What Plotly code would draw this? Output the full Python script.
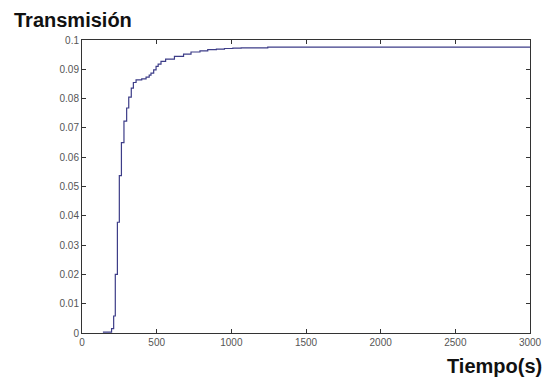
import plotly.graph_objects as go

tiempo = [140, 198, 212, 223, 237, 250, 264, 281, 299, 313, 330, 344, 362, 400, 429, 450, 462, 480, 496,
          510, 529, 560, 619, 680, 730, 790, 842, 900, 954, 1010, 1066, 1244, 1600, 2000, 2500, 3000]
transmision = [0.0003, 0.0015, 0.0058, 0.020, 0.0378, 0.0537, 0.065, 0.0723, 0.0768, 0.0805, 0.0836, 0.0855,
               0.0864, 0.0867, 0.0873, 0.0880, 0.0887, 0.0898, 0.0910, 0.0918, 0.0927, 0.0935, 0.0944,
               0.0952, 0.0959, 0.0963, 0.0967, 0.0969, 0.0971, 0.0972, 0.0973, 0.0976, 0.0976, 0.0976,
               0.0976, 0.0976]

x_ticks = [0, 500, 1000, 1500, 2000, 2500, 3000]
y_ticks = [0, 0.01, 0.02, 0.03, 0.04, 0.05, 0.06, 0.07, 0.08, 0.09, 0.1]
y_labels = ["0", "0.01", "0.02", "0.03", "0.04", "0.05", "0.06", "0.07", "0.08", "0.09", "0.1"]

fig = go.Figure()
fig.add_trace(go.Scatter(x=tiempo, y=transmision, mode="lines", line_shape="hv",
                         line=dict(color="#3d3d88", width=1.2), showlegend=False))

axis_common = dict(showgrid=False, zeroline=False, showline=True, linecolor="#333333", linewidth=1,
                   mirror="ticks", ticks="inside", ticklen=4, tickcolor="#333333", automargin=False,
                   tickfont=dict(family="Liberation Sans, Arial", size=10, color="#555555"))

fig.update_xaxes(range=[0, 3000], tickvals=x_ticks, ticktext=[str(v) for v in x_ticks], **axis_common)
fig.update_yaxes(range=[0, 0.1], tickvals=y_ticks, ticktext=y_labels, **axis_common)

fig.add_annotation(text="<b>Transmisión</b>", xref="paper", yref="paper", x=-0.157, y=1.067,
                   xanchor="left", yanchor="middle", showarrow=False,
                   font=dict(family="Liberation Sans, Arial", size=20, color="#111111"))
fig.add_annotation(text="<b>Tiempo(s)</b>", xref="paper", yref="paper", x=1.031, y=-0.113,
                   xanchor="right", yanchor="middle", showarrow=False,
                   font=dict(family="Liberation Sans, Arial", size=20, color="#111111"))

fig.update_layout(width=547, height=377, margin=dict(l=82, r=17, t=40, b=44, autoexpand=False),
                  plot_bgcolor="white", paper_bgcolor="white")

fig.write_html("out.html", config={"displayModeBar": False, "responsive": False},
               post_script="document.body.style.margin='0';document.body.style.overflow='hidden';")
